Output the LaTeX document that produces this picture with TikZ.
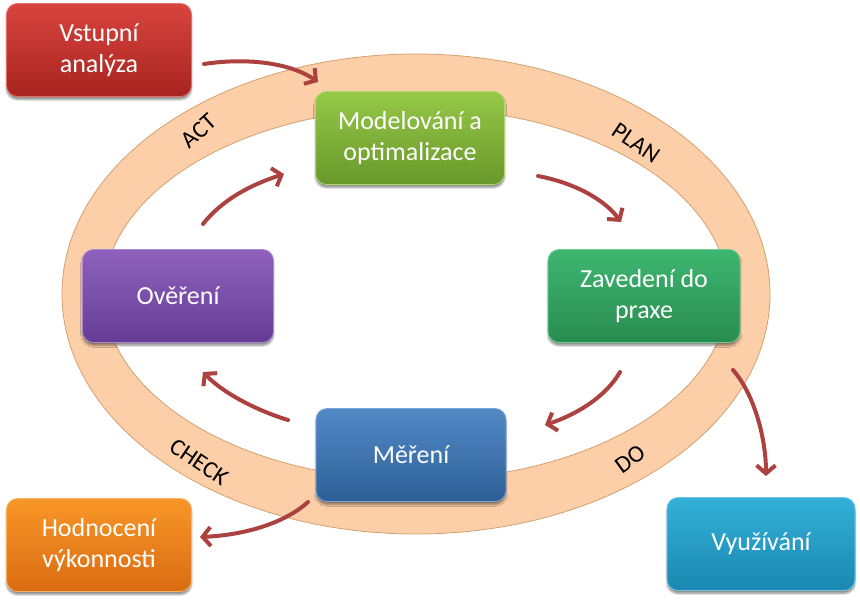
\documentclass[tikz,border=0pt]{standalone}
\usepackage{fontspec}
\setmainfont{Carlito}
\usetikzlibrary{arrows.meta,shadows.blur}
\definecolor{ringfill}{RGB}{252,207,168}
\definecolor{ringline}{RGB}{212,160,112}
\definecolor{arr}{RGB}{172,66,63}
\tikzset{
  box/.style={rounded corners=11pt, minimum width=#1, minimum height=93pt, align=center,
    text=white, font=\fontsize{26}{31}\selectfont, line width=0.8pt,
    blur shadow={shadow blur steps=6, shadow xshift=0pt, shadow yshift=-3pt, shadow opacity=45}},
  box/.default=188pt,
  lbl/.style={font=\fontsize{24}{26}\selectfont, text=black},
  flow/.style={draw=arr, line width=4pt, line cap=round, -{Straight Barb[length=8pt,width=19pt]}}
}
\begin{document}
\begin{tikzpicture}[x=1pt,y=-1pt]
\useasboundingbox (0,0) rectangle (860,602);
% ring
\fill[ringfill, even odd rule] (416,294) ellipse [x radius=354, y radius=240] (416,294) ellipse [x radius=312, y radius=186];
\draw[ringline, line width=0.8pt] (416,294) ellipse [x radius=354, y radius=240];
\draw[ringline, line width=0.8pt] (416,294) ellipse [x radius=312, y radius=186];
% labels
\node[lbl, rotate=42] (act) at (199,131) {ACT};
\node[lbl, rotate=-34] (plan) at (636,143) {PLAN};
\node[lbl, rotate=36] (do) at (630,459) {DO};
\node[lbl, rotate=-34] (check) at (199,462) {CHECK};
% boxes
\node[box=185pt, draw={rgb,255:red,230;green,110;blue,105}, top color={rgb,255:red,216;green,68;blue,62}, bottom color={rgb,255:red,168;green,36;blue,32}] (vst) at (99,50) {Vstupní\\analýza};
\node[box=189pt, draw={rgb,255:red,175;green,215;blue,110}, top color={rgb,255:red,150;green,200;blue,72}, bottom color={rgb,255:red,104;green,152;blue,42}] (mod) at (410,138) {Modelování a\\optimalizace};
\node[box=192pt, draw={rgb,255:red,110;green,205;blue,145}, top color={rgb,255:red,62;green,182;blue,112}, bottom color={rgb,255:red,40;green,140;blue,80}] (zav) at (644,296) {Zavedení do\\praxe};
\node[box=191pt, draw={rgb,255:red,170;green,135;blue,210}, top color={rgb,255:red,142;green,98;blue,188}, bottom color={rgb,255:red,100;green,60;blue,150}] (ove) at (178,296) {Ověření};
\node[box=190pt, draw={rgb,255:red,120;green,165;blue,215}, top color={rgb,255:red,82;green,138;blue,198}, bottom color={rgb,255:red,45;green,95;blue,150}] (mer) at (411,455) {Měření};
\node[box=185pt, draw={rgb,255:red,250;green,180;blue,100}, top color={rgb,255:red,248;green,150;blue,40}, bottom color={rgb,255:red,218;green,108;blue,18}] (hod) at (99,545) {Hodnocení\\výkonnosti};
\node[box=188pt, draw={rgb,255:red,110;green,200;blue,230}, top color={rgb,255:red,52;green,176;blue,216}, bottom color={rgb,255:red,26;green,136;blue,176}] (vyu) at (761,544) {Využívání};
% arrow ends
\coordinate (a1s) at (204,64);  \coordinate (a1e) at (318,82);
\coordinate (a2s) at (538,176); \coordinate (a2e) at (621,222);
\coordinate (a3s) at (620,372); \coordinate (a3e) at (545,425);
\coordinate (a4s) at (288,420); \coordinate (a4e) at (203,372);
\coordinate (a5s) at (203,224); \coordinate (a5e) at (284,174);
\coordinate (a6s) at (308,502); \coordinate (a6e) at (200,537);
\coordinate (a7s) at (733,370); \coordinate (a7e) at (766,476);
% arrows
\draw[flow] (a1s) .. controls (250,57) and (292,64) .. (a1e);
\draw[flow] (a2s) .. controls (575,183) and (605,200) .. (a2e);
\draw[flow] (a3s) .. controls (605,398) and (575,415) .. (a3e);
\draw[flow] (a4s) .. controls (255,410) and (222,392) .. (a4e);
\draw[flow] (a5s) .. controls (222,200) and (250,185) .. (a5e);
\draw[flow] (a6s) .. controls (285,523) and (245,535) .. (a6e);
\draw[flow] (a7s) .. controls (755,395) and (766,440) .. (a7e);
\end{tikzpicture}
\end{document}
